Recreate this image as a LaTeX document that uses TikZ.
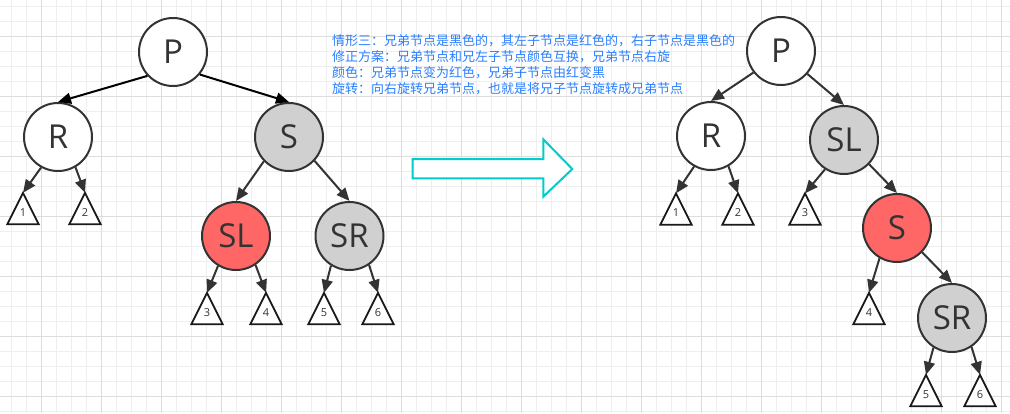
\documentclass[tikz,border=0pt]{standalone}
\usepackage{fontspec}
\setmainfont{Open Sans}
\newfontfamily\cjk{Noto Sans CJK SC}
\usetikzlibrary{arrows.meta}
\definecolor{gridminor}{HTML}{EEEEEE}
\definecolor{gridmajor}{HTML}{DDDDDD}
\definecolor{ink}{HTML}{333333}
\definecolor{nodegray}{HTML}{D0D0D0}
\definecolor{nodered}{HTML}{FF6666}
\definecolor{notecolor}{HTML}{2A7FFF}
\definecolor{bigarrow}{HTML}{00CCCC}
\tikzset{
  rb/.style={circle, draw=ink, line width=2pt, minimum size=68pt, inner sep=0pt,
    text=ink, font=\fontsize{33}{36}\selectfont},
  white node/.style={rb, fill=white},
  gray node/.style={rb, fill=nodegray},
  red node/.style={rb, fill=nodered},
  leaf/.style={rectangle, minimum width=31pt, minimum height=31pt, inner sep=0pt,
    text height=15.5pt, text depth=0pt, text=ink, font=\fontsize{11}{12}\selectfont},
  tri/.style={draw=black!90, line width=1.8pt, fill=white, line join=miter},
  link/.style={draw=ink, line width=2pt, -{Triangle[length=13pt,width=11pt]}},
  toplink/.style={link, draw=black},
  note/.style={anchor=base west, inner sep=0pt, text=notecolor, font=\cjk\fontsize{13}{15.7}\selectfont}
}
\begin{document}
\begin{tikzpicture}[x=1pt,y=-1pt]
\useasboundingbox (0,0) rectangle (1010,413);
\fill[white] (0,0) rectangle (1010,413);
% grid
\foreach \x in {11.7,26.7,...,1010} \draw[gridminor,line width=1pt] (\x,0) -- (\x,413);
\foreach \y in {6.7,21.7,...,413} \draw[gridminor,line width=1pt] (0,\y) -- (1010,\y);
\foreach \x in {41.7,101.7,...,1010} \draw[gridmajor,line width=1pt] (\x,0) -- (\x,413);
\foreach \y in {36.7,96.7,...,413} \draw[gridmajor,line width=1pt] (0,\y) -- (1010,\y);

% ---------- left tree ----------
\node[white node] (lP) at (173,52) {P};
\node[white node] (lR) at (58,137) {R};
\node[gray node] (lS) at (289,137) {S};
\node[red node] (lSL) at (236,236) {SL};
\node[gray node] (lSR) at (349.5,236) {SR};
\node[leaf] (l1) at (23,208.5) {};
\node[leaf] (l2) at (85,208.5) {};
\node[leaf] (l3) at (207,308.5) {};
\node[leaf] (l4) at (266,308.5) {};
\node[leaf] (l5) at (324,308.5) {};
\node[leaf] (l6) at (378,308.5) {};

% ---------- right tree ----------
\node[white node] (rP) at (781,51) {P};
\node[white node] (rR) at (711,136) {R};
\node[gray node] (rSL) at (844,140) {SL};
\node[red node] (rS) at (897,228) {S};
\node[gray node] (rSR) at (952,318) {SR};
\node[leaf] (r1) at (676,209) {};
\node[leaf] (r2) at (738,209) {};
\node[leaf] (r3) at (805,209) {};
\node[leaf] (r4) at (869,308.5) {};
\node[leaf] (r5) at (926,390.5) {};
\node[leaf] (r6) at (980,390.5) {};

% triangles and their numbers
\foreach \t/\n in {l1/1,l2/2,l3/3,l4/4,l5/5,l6/6,r1/1,r2/2,r3/3,r4/4,r5/5,r6/6}{
  \draw[tri] (\t.south west) -- (\t.south east) -- (\t.north) -- cycle;
  \node[leaf] (\t-num) at (\t) {\n};
}

% connectors left
\draw[toplink] (lP.223) -- (lR.north);
\draw[toplink] (lP.320) -- (lS.north);
\draw[link] (lR.241) -- (l1.north);
\draw[link] (lR.300) -- (l2.north);
\draw[link] (lS.224) -- (lSL.north);
\draw[link] (lS.317) -- (lSR.north);
\draw[link] (lSL.239) -- (l3.north);
\draw[link] (lSL.304) -- (l4.north);
\draw[link] (lSR.238) -- (l5.north);
\draw[link] (lSR.304) -- (l6.north);

% connectors right
\draw[link] (rP.218) -- (rR.north);
\draw[link] (rP.319) -- (rSL.north);
\draw[link] (rR.241) -- (r1.north);
\draw[link] (rR.300) -- (r2.north);
\draw[link] (rSL.237) -- (r3.north);
\draw[link] (rSL.316) -- (rS.north);
\draw[link] (rS.240) -- (r4.north);
\draw[link] (rS.316) -- (rSR.north);
\draw[link] (rSR.238) -- (r5.north);
\draw[link] (rSR.304) -- (r6.north);

% big arrow
\draw[bigarrow, line width=2pt, fill=white, line join=miter]
  (412.7,159) -- (543.3,159) -- (543.3,139.3) -- (572.3,169) -- (543.3,196.7)
  -- (543.3,178.3) -- (412.7,178.3) -- cycle;

% notes
\node[note] (n1) at (332,45) {情形三：兄弟节点是黑色的，其左子节点是红色的，右子节点是黑色的};
\node[note] (n2) at (332,61) {修正方案：兄弟节点和兄左子节点颜色互换，兄弟节点右旋};
\node[note] (n3) at (332,77) {颜色：兄弟节点变为红色，兄弟子节点由红变黑};
\node[note] (n4) at (332,93) {旋转：向右旋转兄弟节点，也就是将兄子节点旋转成兄弟节点};
\end{tikzpicture}
\end{document}
